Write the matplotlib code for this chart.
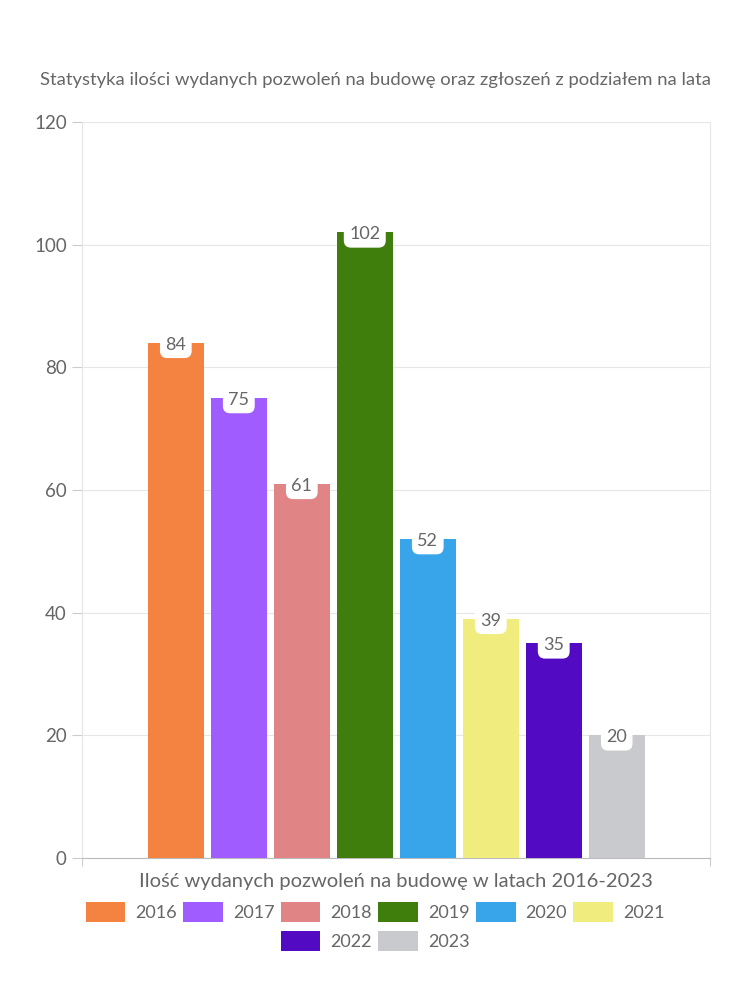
import numpy as np
import matplotlib
matplotlib.use("Agg")
import matplotlib.pyplot as plt
from matplotlib.patches import Patch

years = ["2016", "2017", "2018", "2019", "2020", "2021", "2022", "2023"]
values = [84, 75, 61, 102, 52, 39, 35, 20]
colors = ["#f48342", "#a05cff", "#e08486", "#3f7d0c", "#38a4ea",
          "#f0ec7e", "#520bc3", "#c9cace"]
y_ticks = [0, 20, 40, 60, 80, 100, 120]

title = "Statystyka ilości wydanych pozwoleń na budowę oraz zgłoszeń z podziałem na lata"
x_label = "Ilość wydanych pozwoleń na budowę w latach 2016-2023"

plt.rcParams['font.family'] = ['Lato', 'DejaVu Sans']
text_color = "#666666"

fig = plt.figure(figsize=(7.5, 10), dpi=100)
ax = fig.add_axes([0.1093, 0.142, 0.8373, 0.736])

x = np.arange(len(values))
bars = ax.bar(x, values, width=0.89, color=colors, zorder=3)

for xi, v in zip(x, values):
    ax.text(xi, v - 0.3, str(v), ha="center", va="center", fontsize=13,
            color=text_color, zorder=4,
            bbox=dict(boxstyle="round,pad=0.3,rounding_size=0.4",
                      fc="white", ec="none"))

ax.set_xlim(-1.49, 8.48)
ax.set_ylim(0, 120)
ax.set_yticks(y_ticks)
ax.set_yticklabels([str(t) for t in y_ticks], fontsize=13.5, color=text_color)
ax.set_xticks([-1.49, 8.48])
ax.set_xticklabels([])
ax.tick_params(axis="y", length=7, color="#cccccc", pad=4)
ax.tick_params(axis="x", length=6, color="#cccccc")
ax.yaxis.grid(True, color="#e6e6e6", linewidth=0.8, zorder=0)

for side in ["left", "right", "top"]:
    ax.spines[side].set_color("#e6e6e6")
    ax.spines[side].set_linewidth(0.8)
ax.spines["top"].set_visible(False)
ax.spines["bottom"].set_color("#bbbbbb")

ax.set_xlabel(x_label, fontsize=14.5, color=text_color, labelpad=1)
fig.text(0.5, 0.92, title, ha="center", va="center", fontsize=13.3,
         color=text_color)

handles = [Patch(facecolor=c, edgecolor="none") for c in colors]
leg_kw = dict(loc="center", frameon=False, fontsize=13,
              handlelength=2.2, handleheight=1.25,
              columnspacing=0.35, handletextpad=0.55)
leg1 = fig.legend(handles[:6], years[:6], ncol=6,
                  bbox_to_anchor=(0.5, 0.088), **leg_kw)
leg2 = fig.legend(handles[6:], years[6:], ncol=2,
                  bbox_to_anchor=(0.5, 0.059), **leg_kw)
for leg in (leg1, leg2):
    for t in leg.get_texts():
        t.set_color(text_color)

fig.savefig("out.png", dpi=100, facecolor="white")
